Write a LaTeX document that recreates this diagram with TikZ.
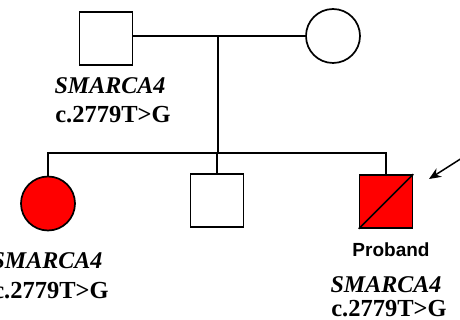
\documentclass[tikz,border=0pt]{standalone}
\usepackage{fontspec}
\setmainfont{Liberation Serif}
\setsansfont{Liberation Sans}
\usetikzlibrary{arrows.meta}
\begin{document}
\begin{tikzpicture}[x=1pt,y=-1pt,
  lw/.style={line width=1.7pt},
  male/.style={draw,lw,rectangle,minimum size=53pt,inner sep=0pt},
  female/.style={draw,lw,circle,minimum size=54pt,inner sep=0pt},
  gene/.style={anchor=base,inner sep=0pt,font=\fontsize{24}{24}\selectfont\bfseries\itshape},
  mut/.style={anchor=base,inner sep=0pt,font=\fontsize{24.5}{24}\selectfont\bfseries},
  lbl/.style={anchor=base,inner sep=0pt,font=\fontsize{19}{19}\selectfont\sffamily\bfseries}]
\useasboundingbox (0,0) rectangle (460,320);
% generation I
\node[male] (father) at (106,38.5) {};
\node[female] (mother) at (333,36) {};
\coordinate (m) at (218,36);
\draw[lw] (father.east |- m) -- (mother.west);
% sibship
\coordinate (s) at (218,153);
\draw[lw] (m) -- (s);
% generation II
\node[female,fill=red] (daughter) at (48,203.5) {};
\node[male] (son) at (217,200.5) {};
\node[male,fill=red] (proband) at (386,201.5) {};
\draw[lw] (daughter.north) -- (daughter.north |- s) -- (proband.north |- s) -- (proband.north);
\draw[lw] (son.north |- s) -- (son.north);
\draw[lw] (proband.south west) -- (proband.north east);
% arrow
\coordinate (a0) at (462,158);
\coordinate (a1) at (429,179);
\draw[line width=1.5pt,-{Stealth[length=12pt,width=10pt]}] (a0) -- (a1);
% texts
\node[gene] (g1) at (110,94) {SMARCA4};
\node[mut] (m1) at (113,123) {c.2779T>G};
\node[gene] (g2) at (47,269) {SMARCA4};
\node[mut] (m2) at (51,298) {c.2779T>G};
\node[lbl] (pb) at (391,257) {Proband};
\node[gene] (g3) at (386,292) {SMARCA4};
\node[mut] (m3) at (389,316) {c.2779T>G};
\end{tikzpicture}
\end{document}
